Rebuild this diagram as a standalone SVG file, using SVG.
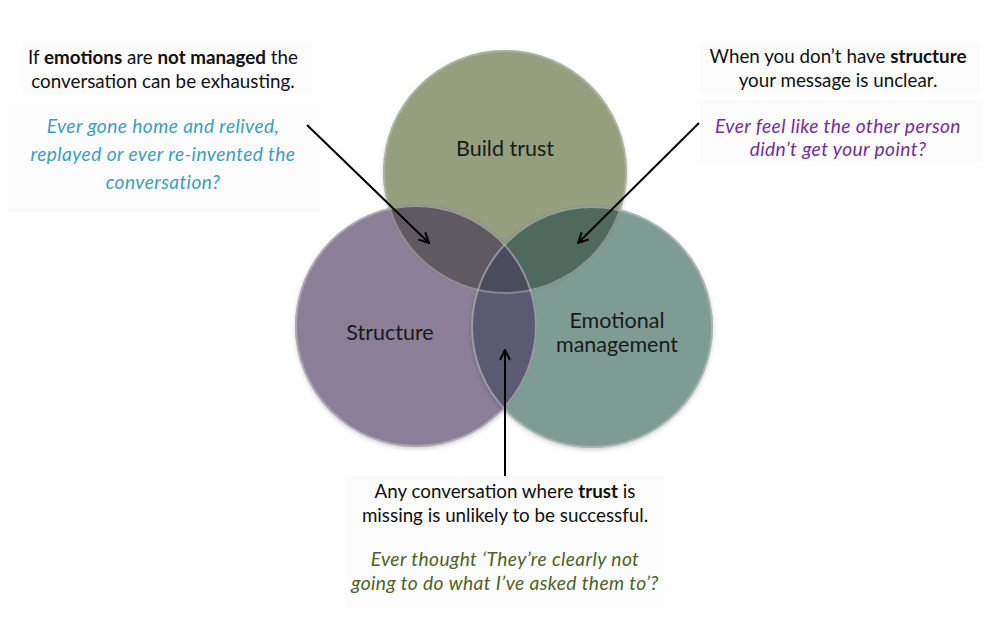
<svg xmlns="http://www.w3.org/2000/svg" width="1000" height="629" viewBox="0 0 1000 629">
<style>
  .t { font-family: Lato, "Open Sans", "Liberation Sans", sans-serif; font-size: 18.8px; fill: #111; text-anchor: middle; }
  .i { font-style: italic; font-size: 19.2px; letter-spacing: 0.4px; }
  .b { font-weight: bold; }
  .lbl { font-family: Lato, "Open Sans", "Liberation Sans", sans-serif; font-size: 21.5px; fill: #1a1a1a; text-anchor: middle; }
  .rim { fill: none; stroke: #c4c4c4; stroke-width: 2; }
  .arrow { stroke: #000; stroke-width: 2; fill: none; marker-end: url(#head); }
  .bg { fill: #fcfcfc; }
</style>
<defs>
  <marker id="head" viewBox="0 0 12 12" refX="11" refY="6" markerWidth="12" markerHeight="12" markerUnits="userSpaceOnUse" orient="auto">
    <path d="M1,1 L11,6 L1,11" fill="none" stroke="#000" stroke-width="2"/>
  </marker>
  <clipPath id="cT"><circle cx="505" cy="172" r="122"/></clipPath>
  <clipPath id="cS"><circle cx="416" cy="326" r="121"/></clipPath>
  <clipPath id="cE"><circle cx="592" cy="327" r="121"/></clipPath>
  <filter id="sh" x="-10%" y="-10%" width="120%" height="120%">
    <feDropShadow dx="0" dy="2" stdDeviation="2" flood-color="#000" flood-opacity="0.18"/>
  </filter>
</defs>
<rect width="1000" height="629" fill="#ffffff"/>

<g id="textbg">
  <rect class="bg" x="22" y="42" width="290" height="52"/>
  <rect class="bg" x="8" y="104" width="312" height="108"/>
  <rect class="bg" x="700" y="42" width="280" height="52"/>
  <rect class="bg" x="700" y="100" width="282" height="62"/>
  <rect class="bg" x="346" y="476" width="318" height="132"/>
</g>

<g id="venn">
  <g id="node-trust">
    <circle cx="505" cy="172" r="122" fill="#959f7d" filter="url(#sh)"/>
  </g>
  <g id="node-structure">
    <circle cx="416" cy="326" r="121" fill="#8a7f97" filter="url(#sh)"/>
  </g>
  <g id="node-emotional">
    <circle cx="592" cy="327" r="121" fill="#7f9c94" filter="url(#sh)"/>
  </g>
  <g id="overlaps">
    <g clip-path="url(#cT)"><circle cx="416" cy="326" r="121" fill="#5f5961"/></g>
    <g clip-path="url(#cT)"><circle cx="592" cy="327" r="121" fill="#4e6a5e"/></g>
    <g clip-path="url(#cS)"><circle cx="592" cy="327" r="121" fill="#5a5b71"/></g>
    <g clip-path="url(#cT)"><g clip-path="url(#cS)"><circle cx="592" cy="327" r="121" fill="#4a4b5b"/></g></g>
  </g>
  <g id="rims">
    <circle class="rim" cx="505" cy="172" r="121" stroke-opacity="0.5"/>
    <circle class="rim" cx="416" cy="326" r="120" stroke-opacity="0.6"/>
    <circle class="rim" cx="592" cy="327" r="120" stroke-opacity="0.6"/>
  </g>
  <text class="lbl" x="505" y="156">Build trust</text>
  <text class="lbl" x="390" y="340">Structure</text>
  <text class="lbl" x="617" y="328">Emotional</text>
  <text class="lbl" x="617" y="352">management</text>
</g>

<g id="connectors">
  <line class="arrow" x1="307" y1="125" x2="429" y2="243"/>
  <line class="arrow" x1="699" y1="123" x2="578" y2="243"/>
  <line class="arrow" x1="505" y1="476" x2="505" y2="350"/>
</g>

<g id="note-left">
  <text class="t" x="163" y="64">If <tspan class="b">emotions</tspan> are <tspan class="b">not managed</tspan> the</text>
  <text class="t" x="163" y="88">conversation can be exhausting.</text>
  <text class="t i" x="163" y="133" style="fill:#3e9fbc">Ever gone home and relived,</text>
  <text class="t i" x="163" y="161" style="fill:#3e9fbc">replayed or ever re-invented the</text>
  <text class="t i" x="163" y="189" style="fill:#3e9fbc">conversation?</text>
</g>

<g id="note-right">
  <text class="t" x="838" y="63">When you don’t have <tspan class="b">structure</tspan></text>
  <text class="t" x="838" y="87">your message is unclear.</text>
  <text class="t i" x="838" y="133" style="fill:#7030a0">Ever feel like the other person</text>
  <text class="t i" x="838" y="156" style="fill:#7030a0">didn’t get your point?</text>
</g>

<g id="note-bottom">
  <text class="t" x="505" y="498">Any conversation where <tspan class="b">trust</tspan> is</text>
  <text class="t" x="505" y="522">missing is unlikely to be successful.</text>
  <text class="t i" x="505" y="566" style="fill:#4f6228">Ever thought ‘They’re clearly not</text>
  <text class="t i" x="505" y="590" style="fill:#4f6228">going to do what I’ve asked them to’?</text>
</g>
</svg>
